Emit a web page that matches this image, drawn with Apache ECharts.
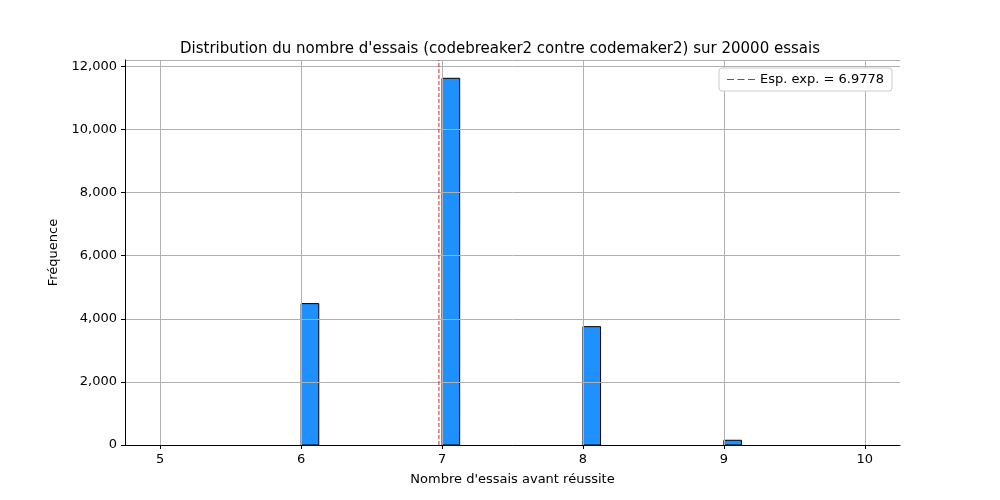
<!DOCTYPE html>
<html>
<head>
<meta charset="utf-8">
<script src="https://cdn.jsdelivr.net/npm/echarts@6/dist/echarts.min.js"></script>
<style>body{margin:0}#main{width:1000px;height:500px}</style>
</head>
<body>
<div id="main"></div>
<script>
let myChart = echarts.init(document.getElementById('main'))

// histogram bins (left edge), width 0.125
const binStarts = [6, 7, 8, 9]
const binWidth = 0.125
const counts = [4480, 11620, 3750, 150]
const meanValue = 6.9778
const xTicks = [5, 6, 7, 8, 9, 10]

let bars = binStarts.map((s, i) => [s, s + binWidth, counts[i]])

let option = {
    animation: false,
    title: {
        text: "Distribution du nombre d'essais (codebreaker2 contre codemaker2) sur 20000 essais",
        left: 'center', top: 37,
        textStyle: { fontFamily: 'DejaVu Sans', fontSize: 15, fontWeight: 'normal', color: '#000' }
    },
    legend: {
        right: 108, top: 68,
        orient: 'vertical',
        backgroundColor: '#fff',
        borderColor: '#ccc', borderWidth: 1, borderRadius: 3,
        padding: [5, 8],
        itemWidth: 28, itemHeight: 2,
        textStyle: { fontFamily: 'DejaVu Sans', fontSize: 13, color: '#000' },
        data: [{ name: 'Esp. exp. = 6.9778', icon: 'path://M0,0H6V1H0ZM9,0H15V1H9ZM18,0H24V1H18Z' }]
    },
    grid: { left: 125, right: 100, top: 60, bottom: 55 },
    xAxis: {
        type: 'value', min: 4.75, max: 10.25, z: 3,
        name: "Nombre d'essais avant réussite", nameLocation: 'middle', nameGap: 28,
        nameTextStyle: { fontFamily: 'DejaVu Sans', fontSize: 13, color: '#000' },
        axisLine: { onZero: false, lineStyle: { color: '#000' } },
        axisTick: { show: true, length: 4, lineStyle: { color: '#000' }, customValues: xTicks },
        axisLabel: { fontFamily: 'DejaVu Sans', fontSize: 13, color: '#000', customValues: xTicks },
        splitLine: { show: true, lineStyle: { color: '#b0b0b0' } }
    },
    yAxis: {
        type: 'value', min: 0, max: 12200, interval: 2000, z: 3,
        name: 'Fréquence', nameLocation: 'middle', nameGap: 58,
        nameTextStyle: { fontFamily: 'DejaVu Sans', fontSize: 13, color: '#000' },
        axisLine: { show: true, lineStyle: { color: '#000' } },
        axisTick: { show: true, length: 4, lineStyle: { color: '#000' } },
        axisLabel: { fontFamily: 'DejaVu Sans', fontSize: 13, color: '#000', showMaxLabel: false },
        splitLine: { show: true, lineStyle: { color: '#b0b0b0' } }
    },
    series: [
        {
            type: 'custom',
            data: bars,
            renderItem: (params, api) => {
                let p0 = api.coord([api.value(0), api.value(2)])
                let p1 = api.coord([api.value(1), 0])
                return {
                    type: 'rect',
                    shape: { x: p0[0], y: p0[1], width: p1[0] - p0[0], height: p1[1] - p0[1] },
                    style: { fill: '#1e90ff', stroke: '#000', lineWidth: 1 }
                }
            }
        },
        {
            name: 'Esp. exp. = 6.9778',
            type: 'line', z: 5, symbol: 'none',
            data: [[meanValue, 0], [meanValue, 12200]],
            lineStyle: { color: '#d62728', width: 1, type: [4, 2] },
            itemStyle: { color: '#d62728' }
        }
    ]
}
myChart.setOption(option)
</script>
</body>
</html>
